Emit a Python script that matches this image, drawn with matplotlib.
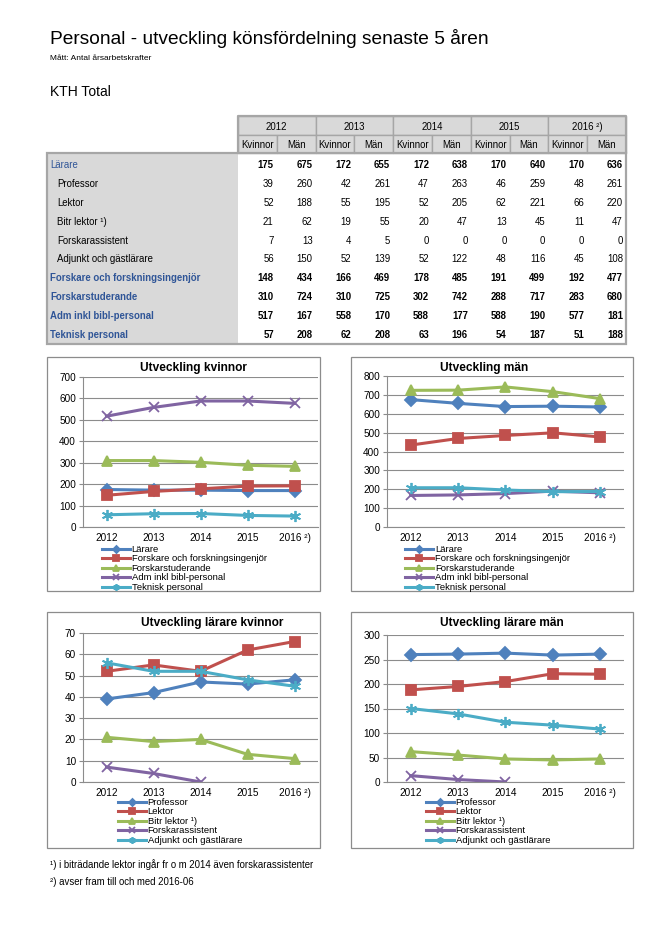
"""Personal - utveckling könsfördelning senaste 5 åren (KTH Total)."""

import matplotlib
import matplotlib.pyplot as plt
from matplotlib.patches import Rectangle

matplotlib.use("Agg")

plt.rcParams["font.family"] = ["Liberation Sans", "DejaVu Sans"]

years = ["2012", "2013", "2014", "2015", "2016 ²)"]

# Kvinnor / Män per personalkategori
larare_k = [175, 172, 172, 170, 170]
larare_m = [675, 655, 638, 640, 636]
professor_k = [39, 42, 47, 46, 48]
professor_m = [260, 261, 263, 259, 261]
lektor_k = [52, 55, 52, 62, 66]
lektor_m = [188, 195, 205, 221, 220]
bitr_k = [21, 19, 20, 13, 11]
bitr_m = [62, 55, 47, 45, 47]
forskass_k = [7, 4, 0, 0, 0]
forskass_m = [13, 5, 0, 0, 0]
adjunkt_k = [56, 52, 52, 48, 45]
adjunkt_m = [150, 139, 122, 116, 108]
forskare_k = [148, 166, 178, 191, 192]
forskare_m = [434, 469, 485, 499, 477]
doktorand_k = [310, 310, 302, 288, 283]
doktorand_m = [724, 725, 742, 717, 680]
adm_k = [517, 558, 588, 588, 577]
adm_m = [167, 170, 177, 190, 181]
teknisk_k = [57, 62, 63, 54, 51]
teknisk_m = [208, 208, 196, 187, 188]

# forskarassistent ingår i bitr lektor fr o m 2014 -> linjen slutar där
FORSKASS_YEARS = 3

W, H = 666, 927
BLUE, RED, GREEN, PURPLE, AQUA = "#4F81BD", "#C0504D", "#9BBB59", "#8064A2", "#4BACC6"
STYLES = [
    (BLUE, "D", 6.0),
    (RED, "s", 7.0),
    (GREEN, "^", 7.5),
    (PURPLE, "x", 7.0),
    (AQUA, (6, 2, 0), 8.0),
]
GRID = "#8c8c8c"
TBL_GRAY = "#d9d9d9"
TBL_EDGE = "#a6a6a6"
LINK = "#2f5597"
FS_TBL = 6.9

fig = plt.figure(figsize=(W / 100, H / 100), dpi=100)
page = fig.add_axes([0, 0, 1, 1])
page.set_xlim(0, W)
page.set_ylim(H, 0)
page.axis("off")

page.text(50, 38, "Personal - utveckling könsfördelning senaste 5 åren",
          fontsize=13.8, va="center", ha="left")
page.text(50, 58, "Mått: Antal årsarbetskrafter", fontsize=6, va="center")
page.text(50, 92, "KTH Total", fontsize=10, va="center")

# ---- table ----
x0, xl, x1 = 47, 238, 626
cw = (x1 - xl) / 10
y_top, y_sub, y_body, y_bot = 116, 135, 153, 344

for i, yr in enumerate(years):
    page.add_patch(Rectangle((xl + 2 * i * cw, y_top), 2 * cw, y_sub - y_top,
                             fc=TBL_GRAY, ec=TBL_EDGE, lw=1))
    page.text(xl + (2 * i + 1) * cw, (y_top + y_sub) / 2 + 1, yr,
              fontsize=FS_TBL, ha="center", va="center")
    for j, sub in enumerate(["Kvinnor", "Män"]):
        cx = xl + (2 * i + j) * cw
        page.add_patch(Rectangle((cx, y_sub), cw, y_body - y_sub,
                                 fc=TBL_GRAY, ec=TBL_EDGE, lw=1))
        page.text(cx + cw / 2, (y_sub + y_body) / 2 + 1, sub,
                  fontsize=FS_TBL, ha="center", va="center")

page.add_patch(Rectangle((x0, y_body), xl - x0, y_bot - y_body, fc=TBL_GRAY, ec="none"))
page.add_patch(Rectangle((x0, y_body), x1 - x0, y_bot - y_body, fc="none",
                         ec=TBL_EDGE, lw=1.6))
page.plot([xl, xl, x1, x1], [y_body, y_top, y_top, y_body], color=TBL_EDGE, lw=1.6)

rows = [
    ("Lärare", "head", larare_k, larare_m),
    ("Professor", "sub", professor_k, professor_m),
    ("Lektor", "sub", lektor_k, lektor_m),
    ("Bitr lektor ¹)", "sub", bitr_k, bitr_m),
    ("Forskarassistent", "sub", forskass_k, forskass_m),
    ("Adjunkt och gästlärare", "sub", adjunkt_k, adjunkt_m),
    ("Forskare och forskningsingenjör", "head", forskare_k, forskare_m),
    ("Forskarstuderande", "head", doktorand_k, doktorand_m),
    ("Adm inkl bibl-personal", "head", adm_k, adm_m),
    ("Teknisk personal", "head", teknisk_k, teknisk_m),
]
row_h = 18.9
for r, (label, kind, kv, mn) in enumerate(rows):
    y = 165 + r * row_h
    if kind == "head":
        page.text(50, y, label, fontsize=FS_TBL, color=LINK, va="center",
                  fontweight="normal" if r == 0 else "bold")
    else:
        page.text(57, y, label, fontsize=FS_TBL, va="center")
    weight = "bold" if kind == "head" else "normal"
    for i in range(5):
        for j, v in enumerate((kv[i], mn[i])):
            page.text(xl + (2 * i + j + 1) * cw - 3, y, str(v), fontsize=FS_TBL,
                      ha="right", va="center", fontweight=weight)


# ---- charts ----
def px_axes(l, t, r, b):
    return fig.add_axes([l / W, 1 - b / H, (r - l) / W, (b - t) / H])


def draw_chart(box, plot, title, title_xy, series, labels, ymax, ystep, leg_xy):
    bl, bt, br, bb = box
    page.add_patch(Rectangle((bl, bt), br - bl, bb - bt, fc="white", ec=GRID, lw=0.9))
    page.text(title_xy[0], title_xy[1], title, fontsize=8.6, fontweight="bold",
              ha="center", va="center")
    ax = px_axes(*plot)
    ax.patch.set_alpha(0)
    for (col, mk, ms), vals, lab in zip(STYLES, series, labels):
        ax.plot(range(len(vals)), vals, color=col, lw=2.2, marker=mk, ms=ms,
                mfc=col, mec=col, mew=1.3, label=lab, solid_joinstyle="round")
    ax.set_xlim(-0.5, 4.5)
    ax.set_ylim(0, ymax)
    ax.set_yticks(range(0, ymax + 1, ystep))
    ax.set_xticks(range(5))
    ax.set_xticklabels(years)
    ax.yaxis.grid(True, color=GRID, lw=0.8)
    ax.set_axisbelow(True)
    for s in ("top", "right"):
        ax.spines[s].set_visible(False)
    for s in ("left", "bottom"):
        ax.spines[s].set_color(GRID)
        ax.spines[s].set_linewidth(0.8)
    ax.tick_params(axis="y", length=3, color=GRID, labelsize=7.2, pad=2)
    ax.tick_params(axis="x", length=0, labelsize=7.2, pad=4)
    ax.legend(loc="upper left", bbox_to_anchor=(leg_xy[0] / W, 1 - leg_xy[1] / H),
              bbox_transform=fig.transFigure, frameon=False, fontsize=6.8,
              borderpad=0, borderaxespad=0, labelspacing=0.05, handlelength=3.0,
              handleheight=0.6, handletextpad=0.15, numpoints=1, markerscale=0.6)
    return ax


cat_labels = ["Lärare", "Forskare och forskningsingenjör", "Forskarstuderande",
              "Adm inkl bibl-personal", "Teknisk personal"]
lar_labels = ["Professor", "Lektor", "Bitr lektor ¹)", "Forskarassistent",
              "Adjunkt och gästlärare"]

draw_chart((47, 357, 320, 591), (83, 377, 318, 527), "Utveckling kvinnor", (193, 368),
           [larare_k, forskare_k, doktorand_k, adm_k, teknisk_k], cat_labels,
           700, 100, (102, 545))
draw_chart((351, 357, 633, 591), (387, 376, 624, 527), "Utveckling män", (484, 368),
           [larare_m, forskare_m, doktorand_m, adm_m, teknisk_m], cat_labels,
           800, 100, (405, 545))
draw_chart((47, 612, 320, 848), (83, 633, 318, 782), "Utveckling lärare kvinnor", (212, 623),
           [professor_k, lektor_k, bitr_k, forskass_k[:FORSKASS_YEARS], adjunkt_k],
           lar_labels, 70, 10, (118, 798))
draw_chart((351, 612, 633, 848), (387, 635, 624, 782), "Utveckling lärare män", (502, 623),
           [professor_m, lektor_m, bitr_m, forskass_m[:FORSKASS_YEARS], adjunkt_m],
           lar_labels, 300, 50, (426, 798))

page.text(50, 865, "¹) i biträdande lektor ingår fr o m 2014 även forskarassistenter",
          fontsize=6.9, va="center")
page.text(50, 882, "²) avser fram till och med 2016-06", fontsize=6.9, va="center")

fig.savefig("out.png", dpi=100)
